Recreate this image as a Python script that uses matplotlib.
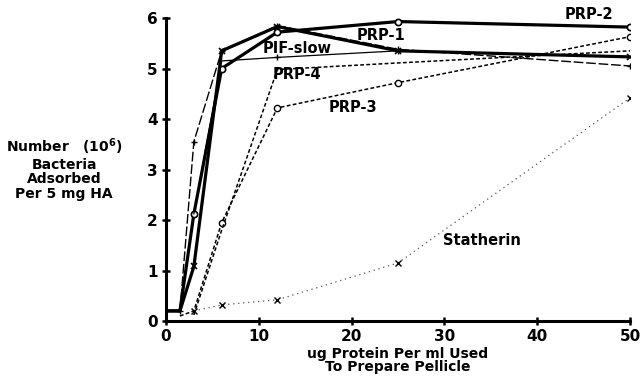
import matplotlib.pyplot as plt

plt.rcParams['font.family'] = 'DejaVu Sans'
plt.rcParams['font.weight'] = 'bold'

# ug protein per ml
prp1_x = [0, 1.5, 3, 6, 12, 25, 50]
prp1_y = [0.2, 0.2, 1.08, 5.35, 5.83, 5.35, 5.23]

prp2_x = [0, 1.5, 3, 6, 12, 25, 50]
prp2_y = [0.2, 0.2, 2.12, 5.0, 5.72, 5.93, 5.82]

prp3_x = [1.5, 3, 6, 12, 25, 50]
prp3_y = [0.1, 0.2, 1.95, 4.22, 4.72, 5.63]

prp4_x = [3, 6, 12, 25, 50]
prp4_y = [0.12, 1.8, 4.98, 5.11, 5.35]

dash_x = [1.5, 3, 6, 12, 25, 50]
dash_y = [0.2, 3.55, 5.35, 5.85, 5.38, 5.05]

pif_x = [3, 6, 12, 25, 50]
pif_y = [2.12, 5.15, 5.22, 5.35, 5.23]

stath_x = [3, 6, 12, 25, 50]
stath_y = [0.2, 0.32, 0.42, 1.15, 4.42]

labels = ['PRP-2', 'PRP-1', 'PIF-slow', 'PRP-4', 'PRP-3', 'Statherin']
label_x = [43.0, 20.5, 10.4, 11.5, 17.5, 29.9]
label_y = [6.06, 5.65, 5.39, 4.89, 4.23, 1.59]

fig = plt.figure(figsize=(6.42, 3.79), dpi=100)
ax = fig.add_axes([0.2586, 0.153, 0.7227, 0.7995])

ax.plot(prp2_x, prp2_y, color='black', lw=2.3, marker='o', ms=4.5, mfc='white', mew=1.2,
        markevery=[2, 3, 4, 5, 6])
ax.plot(prp1_x, prp1_y, color='black', lw=2.3, marker='x', ms=5, mew=1.2,
        markevery=[2, 3, 4, 5, 6])
ax.plot(pif_x, pif_y, color='black', lw=0.9, marker='+', ms=5, mew=1.0, markevery=[2, 3])
ax.plot(dash_x, dash_y, color='black', lw=1.0, ls=(0, (7, 2)), marker='+', ms=5, mew=1.0)
ax.plot(prp3_x, prp3_y, color='black', lw=1.1, ls=(0, (2.5, 1.5)), marker='o', ms=4.5, mfc='white', mew=1.0,
        markevery=[2, 3, 4, 5])
ax.plot(prp4_x, prp4_y, color='black', lw=1.1, ls=(0, (2.5, 1.5)))
ax.plot(stath_x, stath_y, color='#555555', lw=0.9, ls=(0, (1, 3)), marker='x', ms=4.5, mew=1.0, mec='black')

for t, lx, ly in zip(labels, label_x, label_y):
    ax.text(lx, ly, t, fontsize=10.5, fontweight='bold', va='center', ha='left')

ax.set_xlim(0, 50)
ax.set_ylim(0, 6)
ax.set_xticks([0, 10, 20, 30, 40, 50])
ax.set_yticks([0, 1, 2, 3, 4, 5, 6])
ax.spines['top'].set_visible(False)
ax.spines['right'].set_visible(False)
ax.spines['left'].set_linewidth(2.2)
ax.spines['bottom'].set_linewidth(2.2)
ax.tick_params(direction='inout', length=6, width=1.8, labelsize=11, pad=3)
for lab in ax.get_xticklabels() + ax.get_yticklabels():
    lab.set_fontweight('bold')

ax.set_xlabel('ug Protein Per ml Used\nTo Prepare Pellicle', fontsize=10,
              fontweight='bold', linespacing=0.9, labelpad=2)
fig.text(0.10, 0.555, 'Number   (10$^{\\mathbf{6}}$)\nBacteria\nAdsorbed\nPer 5 mg HA',
         ha='center', va='center', fontsize=10, fontweight='bold', linespacing=1.05)

fig.savefig('out.png', dpi=100)
